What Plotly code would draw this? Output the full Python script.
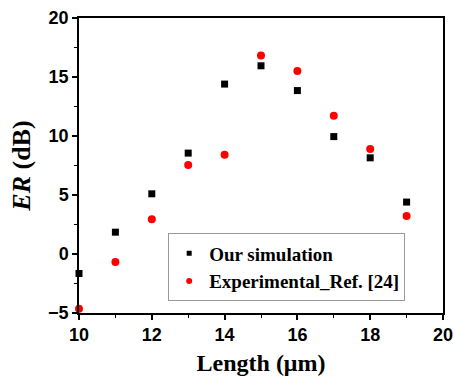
import plotly.graph_objects as go

length = [10, 11, 12, 13, 14, 15, 16, 17, 18, 19]
sim = [-1.65, 1.85, 5.1, 8.55, 14.4, 15.95, 13.85, 9.95, 8.15, 4.4]
exp = [-4.65, -0.68, 2.94, 7.55, 8.42, 16.82, 15.5, 11.72, 8.9, 3.22]

fig = go.Figure()
fig.add_trace(go.Scatter(x=length, y=sim, mode="markers", name="Our simulation", showlegend=False,
                         marker=dict(symbol="square", size=7, color="black"), cliponaxis=False))
fig.add_trace(go.Scatter(x=length, y=exp, mode="markers", name="Experimental_Ref. [24]", showlegend=False,
                         marker=dict(symbol="circle", size=8, color="red"), cliponaxis=False))
# legend entries (smaller symbols, as in the reference)
fig.add_trace(go.Scatter(x=[None], y=[None], mode="markers", name="Our simulation",
                         marker=dict(symbol="square", size=5, color="black")))
fig.add_trace(go.Scatter(x=[None], y=[None], mode="markers", name="Experimental_Ref. [24]",
                         marker=dict(symbol="circle", size=6, color="red")))

axis_common = dict(showline=True, linecolor="black", linewidth=1.5, mirror=True,
                   ticks="outside", ticklen=5, tickwidth=1.5, tickcolor="black",
                   showgrid=False, zeroline=False, automargin=False,
                   tickfont=dict(family="Arial, Liberation Sans", size=18, color="black", weight="bold"),
                   minor=dict(ticks="outside", ticklen=3, tickwidth=1, tickcolor="black"))

fig.update_layout(
    width=454, height=379,
    margin=dict(l=79, r=11, t=18, b=66),
    paper_bgcolor="white", plot_bgcolor="white",
    showlegend=True,
    legend=dict(x=0.245, y=0.27, xanchor="left", yanchor="top",
                bgcolor="white", bordercolor="#999", borderwidth=1,
                font=dict(family="Liberation Serif, Times New Roman", size=19, color="black", weight="bold"),
                itemwidth=30, tracegroupgap=0),
    xaxis=dict(range=[10, 20], dtick=2, tick0=10,
               title=dict(text="Length (μm)", standoff=10,
                          font=dict(family="Liberation Serif, Times New Roman", size=24, color="black", weight="bold")),
               **axis_common),
    yaxis=dict(range=[-5, 20], dtick=5, tick0=0,
               title=dict(text="<i>ER</i> (dB)", standoff=10,
                          font=dict(family="Liberation Serif, Times New Roman", size=26, color="black", weight="bold")),
               **axis_common),
)
fig.update_xaxes(minor=dict(dtick=1))
fig.update_yaxes(minor=dict(dtick=2.5))

fig.write_html("out.html")
